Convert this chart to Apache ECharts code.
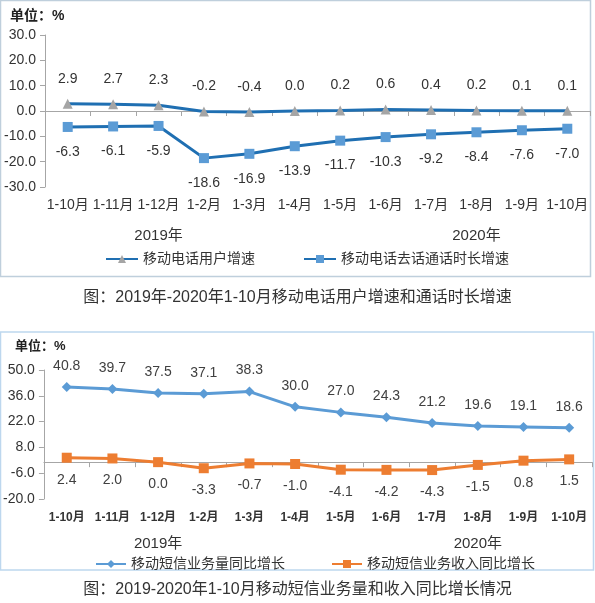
<!DOCTYPE html>
<html>
<head>
<meta charset="utf-8">
<script src="https://cdn.jsdelivr.net/npm/echarts@6/dist/echarts.min.js"></script>
<style>
  html, body { margin: 0; padding: 0; background: #fff; }
  #chart { width: 595px; height: 603px; }
</style>
</head>
<body>
<div id="chart"></div>
<script>
// 两张图共用的月份分类
const MONTHS = ["1-10月", "1-11月", "1-12月", "1-2月", "1-3月", "1-4月", "1-5月", "1-6月", "1-7月", "1-8月", "1-9月", "1-10月"];
const YEAR_LABELS = ["", "", "2019年", "", "", "", "", "", "", "2020年", "", ""];

// 图一：移动电话用户增速 / 去话通话时长增速
const USER_GROWTH = [2.9, 2.7, 2.3, -0.2, -0.4, 0.0, 0.2, 0.6, 0.4, 0.2, 0.1, 0.1];
const CALL_GROWTH = [-6.3, -6.1, -5.9, -18.6, -16.9, -13.9, -11.7, -10.3, -9.2, -8.4, -7.6, -7.0];

// 图二：短信业务量 / 收入同比增长
const SMS_VOLUME = [40.8, 39.7, 37.5, 37.1, 38.3, 30.0, 27.0, 24.3, 21.2, 19.6, 19.1, 18.6];
const SMS_REVENUE = [2.4, 2.0, 0.0, -3.3, -0.7, -1.0, -4.1, -4.2, -4.3, -1.5, 0.8, 1.5];

const FONT = "'Liberation Sans', 'Noto Sans CJK SC', sans-serif";
const AXIS_GRAY = "#a6a6a6";

function valueAxis(gridIndex, min, max, interval, margin) {
  return {
    type: "value",
    gridIndex,
    min,
    max,
    interval,
    axisLine: { show: true, lineStyle: { color: AXIS_GRAY } },
    axisTick: { show: true, length: 5, lineStyle: { color: AXIS_GRAY } },
    splitLine: { show: false },
    axisLabel: {
      margin,
      color: "#333",
      fontSize: 14,
      fontFamily: FONT,
      formatter: (v) => v.toFixed(1),
    },
  };
}

function monthAxis(gridIndex, labelStyle) {
  return {
    type: "category",
    gridIndex,
    data: MONTHS,
    boundaryGap: true,
    axisLine: { lineStyle: { color: AXIS_GRAY } },
    axisTick: { show: true, length: 5, lineStyle: { color: AXIS_GRAY } },
    axisLabel: Object.assign({ interval: 0, color: "#333", fontFamily: FONT }, labelStyle),
  };
}

function yearAxis(gridIndex, margin) {
  return {
    type: "category",
    gridIndex,
    data: MONTHS,
    position: "bottom",
    axisLine: { show: false },
    axisTick: { show: false },
    axisLabel: {
      interval: 0,
      margin,
      color: "#333",
      fontSize: 15,
      fontFamily: FONT,
      formatter: (v, i) => YEAR_LABELS[i],
    },
  };
}

const chart = echarts.init(document.getElementById("chart"));

chart.setOption({
  backgroundColor: "#fff",
  animation: false,
  textStyle: { fontFamily: FONT },
  grid: [
    { left: 45, right: 5, top: 35, height: 152 },
    { left: 43, right: 3, top: 370, height: 129 },
  ],
  xAxis: [
    monthAxis(0, { fontSize: 14, margin: 11 }),
    yearAxis(0, 41),
    monthAxis(1, { fontSize: 12, fontWeight: "bold", margin: 13 }),
    yearAxis(1, 37),
  ],
  yAxis: [
    valueAxis(0, -30, 30, 10, 9),
    valueAxis(1, -20, 50, 14, 9),
  ],
  legend: [
    {
      data: ["移动电话用户增速", "移动电话去话通话时长增速"],
      left: 100,
      top: 247,
      itemWidth: 32,
      itemHeight: 10,
      itemGap: 48,
      textStyle: { color: "#333", fontSize: 14, fontFamily: FONT },
    },
    {
      data: ["移动短信业务量同比增长", "移动短信业务收入同比增长"],
      left: 90,
      top: 552,
      itemWidth: 30,
      itemHeight: 10,
      itemGap: 46,
      textStyle: { color: "#333", fontSize: 14, fontFamily: FONT },
    },
  ],
  series: [
    {
      name: "移动电话用户增速",
      type: "line",
      xAxisIndex: 0,
      yAxisIndex: 0,
      data: USER_GROWTH,
      symbol: "triangle",
      symbolSize: 10,
      lineStyle: { color: "#1f6fb2", width: 3 },
      itemStyle: { color: "#a5a5a5" },
      label: {
        show: true,
        position: "top",
        distance: 13,
        color: "#333",
        fontSize: 14,
        formatter: (p) => p.value.toFixed(1),
      },
    },
    {
      name: "移动电话去话通话时长增速",
      type: "line",
      xAxisIndex: 0,
      yAxisIndex: 0,
      data: CALL_GROWTH,
      symbol: "rect",
      symbolSize: 10,
      lineStyle: { color: "#1f6fb2", width: 3 },
      itemStyle: { color: "#5b9bd5" },
      label: {
        show: true,
        position: "bottom",
        distance: 13,
        color: "#333",
        fontSize: 14,
        formatter: (p) => p.value.toFixed(1),
      },
    },
    {
      name: "移动短信业务量同比增长",
      type: "line",
      xAxisIndex: 2,
      yAxisIndex: 1,
      data: SMS_VOLUME,
      symbol: "diamond",
      symbolSize: 10,
      lineStyle: { color: "#5b9bd5", width: 3 },
      itemStyle: { color: "#5b9bd5" },
      label: {
        show: true,
        position: "top",
        distance: 9,
        color: "#404040",
        fontSize: 14,
        formatter: (p) => p.value.toFixed(1),
      },
    },
    {
      name: "移动短信业务收入同比增长",
      type: "line",
      xAxisIndex: 2,
      yAxisIndex: 1,
      data: SMS_REVENUE,
      symbol: "rect",
      symbolSize: 10,
      lineStyle: { color: "#ed7d31", width: 3 },
      itemStyle: { color: "#ed7d31" },
      label: {
        show: true,
        position: "bottom",
        distance: 10,
        color: "#404040",
        fontSize: 14,
        formatter: (p) => p.value.toFixed(1),
      },
    },
  ],
  graphic: [
    // 图框
    { type: "rect", shape: { x: 0.5, y: 0.5, width: 590, height: 276 }, style: { fill: "none", stroke: "#bfcfdc", lineWidth: 1.5 }, z: -1 },
    { type: "rect", shape: { x: 0.5, y: 332, width: 593, height: 238 }, style: { fill: "none", stroke: "#bdd7ee", lineWidth: 1.5 }, z: -1 },
    // 单位
    { type: "text", left: 10, top: 9, style: { text: "单位：%", fill: "#222", font: "bold 14px " + FONT } },
    { type: "text", left: 15, top: 340, style: { text: "单位：%", fill: "#222", font: "bold 13px " + FONT } },
    // 图注
    { type: "text", left: "center", top: 290, style: { text: "图：2019年-2020年1-10月移动电话用户增速和通话时长增速", fill: "#333", font: "16px " + FONT } },
    { type: "text", left: "center", top: 582, style: { text: "图：2019-2020年1-10月移动短信业务量和收入同比增长情况", fill: "#333", font: "16px " + FONT } },
  ],
});
</script>
</body>
</html>
